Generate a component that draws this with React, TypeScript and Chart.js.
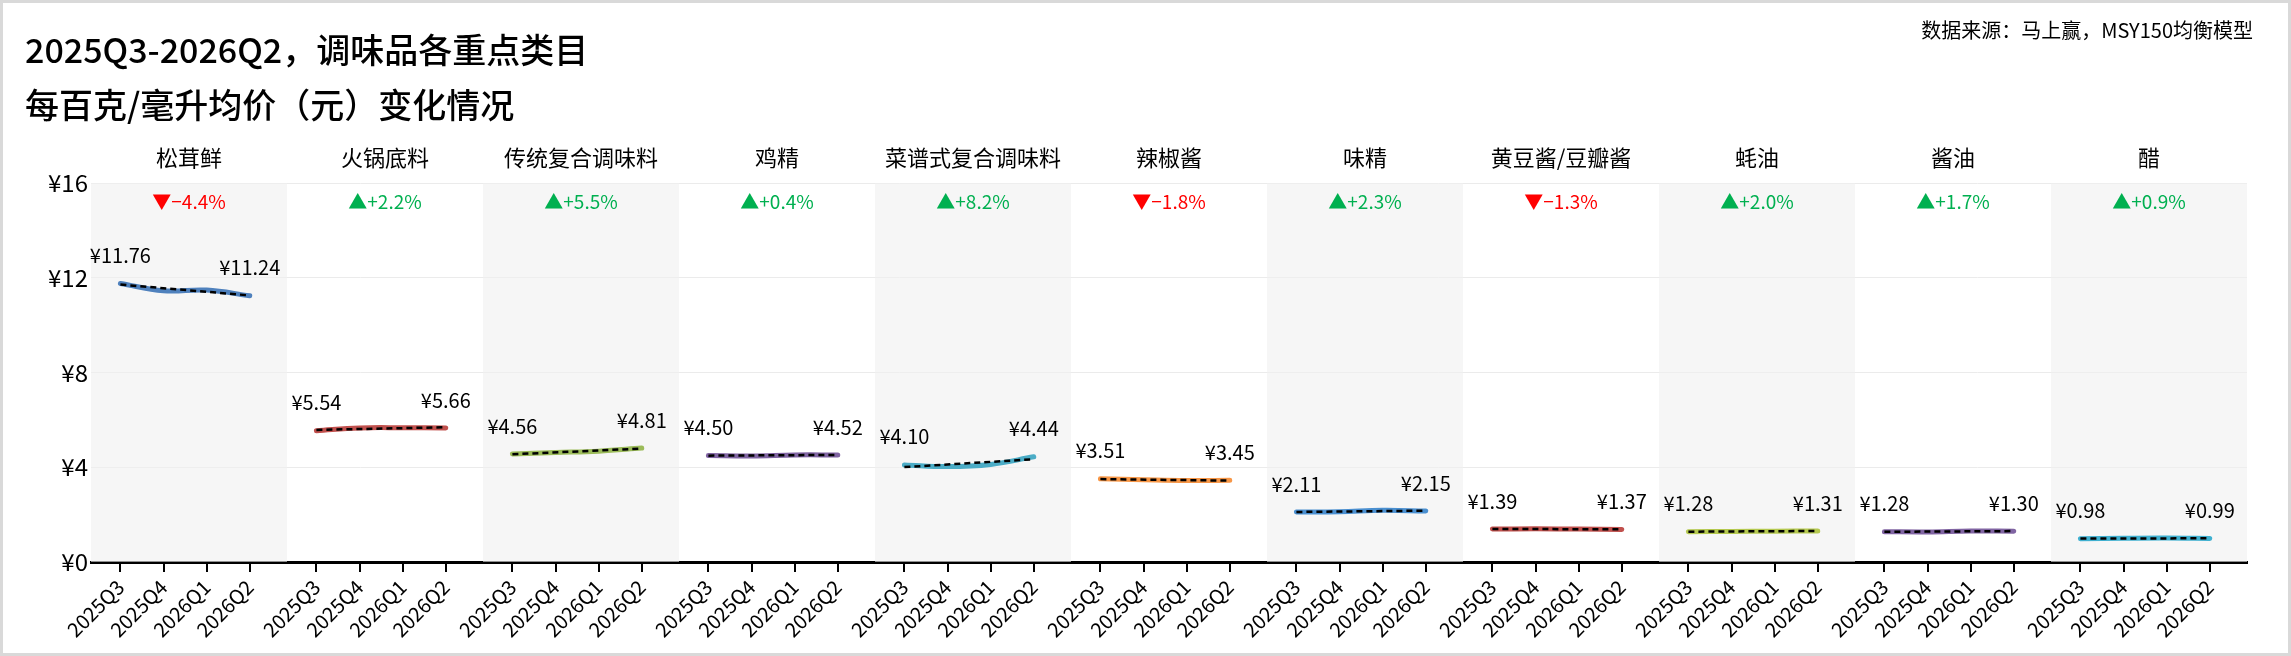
import React, { useEffect, useRef } from "react";
import { Chart, registerables } from "chart.js";
Chart.register(...registerables);

const categories = ["松茸鲜", "火锅底料", "传统复合调味料", "鸡精", "菜谱式复合调味料", "辣椒酱", "味精", "黄豆酱/豆瓣酱", "蚝油", "酱油", "醋"];
const quarters = ["2025Q3", "2025Q4", "2026Q1", "2026Q2"];
const v1 = [11.76, 11.45, 11.48, 11.24];
const v2 = [5.54, 5.66, 5.67, 5.66];
const v3 = [4.56, 4.62, 4.68, 4.81];
const v4 = [4.5, 4.48, 4.52, 4.52];
const v5 = [4.1, 4.03, 4.12, 4.44];
const v6 = [3.51, 3.47, 3.44, 3.45];
const v7 = [2.11, 2.12, 2.18, 2.15];
const v8 = [1.39, 1.4, 1.39, 1.37];
const v9 = [1.28, 1.29, 1.3, 1.31];
const v10 = [1.28, 1.27, 1.31, 1.3];
const v11 = [0.98, 1.0, 1.01, 0.99];
const series = [v1, v2, v3, v4, v5, v6, v7, v8, v9, v10, v11];
const changes = [-4.4, 2.2, 5.5, 0.4, 8.2, -1.8, 2.3, -1.3, 2.0, 1.7, 0.9];
const colors = ["#4f81bd", "#c0504d", "#9bbb59", "#8064a2", "#4bacc6", "#f79646", "#4a8fd0", "#c0504d", "#b5c94f", "#8064a2", "#3fb0d0"];
const yTicks = [0, 4, 8, 12, 16];
const offsets = [0.15, 0.37, 0.59, 0.81];
const FONT = "'Noto Sans CJK SC', sans-serif";

function fit(v: number[]) {
  const xs = [0, 1, 2, 3];
  const mx = 1.5, my = v.reduce((a, b) => a + b, 0) / v.length;
  let num = 0, den = 0;
  xs.forEach((x, i) => { num += (x - mx) * (v[i] - my); den += (x - mx) ** 2; });
  const b = num / den;
  return [my - b * mx, my + b * (3 - mx)];
}

export default function App() {
  const ref = useRef<HTMLCanvasElement>(null);
  useEffect(() => {
    document.body.style.margin = "0";
    const datasets: any[] = [];
    series.forEach((v, i) => {
      datasets.push({
        data: v.map((y, j) => ({ x: i + offsets[j], y })),
        borderColor: colors[i], borderWidth: 5, tension: 0.4, pointRadius: 0, borderCapStyle: "round", order: 2,
      });
      const f = fit(v);
      datasets.push({
        data: [{ x: i + offsets[0], y: f[0] }, { x: i + offsets[3], y: f[1] }],
        borderColor: "#000", borderWidth: 2.5, borderDash: [6, 4], pointRadius: 0, order: 1,
      });
    });
    const tickPos: number[] = [];
    categories.forEach((_, i) => offsets.forEach((o) => tickPos.push(i + o)));

    const plugin = {
      id: "deco",
      beforeDatasetsDraw(chart: any) {
        const { ctx, chartArea: a, scales } = chart;
        ctx.save();
        categories.forEach((_, i) => {
          if (i % 2 === 0) {
            const x0 = scales.x.getPixelForValue(i), x1 = scales.x.getPixelForValue(i + 1);
            ctx.fillStyle = "rgba(240,240,240,0.6)";
            ctx.fillRect(x0, a.top, x1 - x0, a.bottom - a.top);
          }
        });
        ctx.restore();
      },
      afterDraw(chart: any) {
        const { ctx, scales } = chart;
        ctx.save();
        ctx.fillStyle = "#000";
        ctx.textBaseline = "middle";
        ctx.textAlign = "left";
        ctx.font = `500 34px ${FONT}`;
        ctx.fillText("2025Q3-2026Q2，调味品各重点类目", 22, 47);
        ctx.fillText("每百克/毫升均价（元）变化情况", 22, 102);
        ctx.textAlign = "right";
        ctx.font = `20px ${FONT}`;
        ctx.fillText("数据来源：马上赢，MSY150均衡模型", 2250, 27);
        categories.forEach((c, i) => {
          const xc = scales.x.getPixelForValue(i + 0.5);
          ctx.textAlign = "center";
          ctx.fillStyle = "#000";
          ctx.font = `22px ${FONT}`;
          ctx.fillText(c, xc, 155);
          const v = series[i];
          const pct = changes[i];
          const up = pct >= 0;
          ctx.fillStyle = up ? "#00b050" : "#ff0000";
          ctx.font = `19px ${FONT}`;
          const txt = (up ? "▲+" : "▼−") + Math.abs(pct).toFixed(1) + "%";
          ctx.fillText(txt, xc, 199);
          ctx.fillStyle = "#000";
          ctx.font = `20px ${FONT}`;
          [0, 3].forEach((j) => {
            const px = scales.x.getPixelForValue(i + offsets[j]);
            const py = scales.y.getPixelForValue(v[j]);
            ctx.fillText("¥" + v[j].toFixed(2), px, py - 28);
          });
        });
        ctx.restore();
      },
    };

    const chart = new Chart(ref.current!, {
      type: "line",
      data: { datasets },
      plugins: [plugin],
      options: {
        animation: false,
        responsive: false,
        layout: { padding: { top: 180, left: 8, right: 41, bottom: 4 } },
        plugins: { legend: { display: false }, tooltip: { enabled: false } },
        scales: {
          x: {
            type: "linear", min: 0, max: 11,
            afterBuildTicks: (s: any) => { s.ticks = tickPos.map((value) => ({ value })); },
            afterFit: (s: any) => { s.height = 87; },
            ticks: {
              autoSkip: false, minRotation: 45, maxRotation: 45, color: "#000",
              font: { size: 20, family: FONT },
              callback: (val: any) => {
                const v = Number(val);
                const k = Math.round((v - Math.floor(v) - 0.15) / 0.22);
                return quarters[Math.max(0, Math.min(3, k))];
              },
            },
            grid: { drawOnChartArea: false, color: "#000", tickLength: 10, lineWidth: 2 },
            border: { color: "#000", width: 3 },
          },
          y: {
            min: 0, max: 16,
            afterBuildTicks: (s: any) => { s.ticks = yTicks.map((value) => ({ value })); },
            afterFit: (s: any) => { s.width = 80; },
            ticks: { color: "#000", font: { size: 24, family: FONT }, callback: (v: any) => "¥" + v },
            grid: { color: "#ebebeb", drawTicks: false },
            border: { display: false },
          },
        },
      },
    });
    return () => chart.destroy();
  }, []);
  return (
    <div style={{ width: 2291, height: 656, boxSizing: "border-box", border: "3px solid #d9d9d9", background: "#fff" }}>
      <canvas ref={ref} width={2285} height={650} style={{ display: "block" }} />
    </div>
  );
}
